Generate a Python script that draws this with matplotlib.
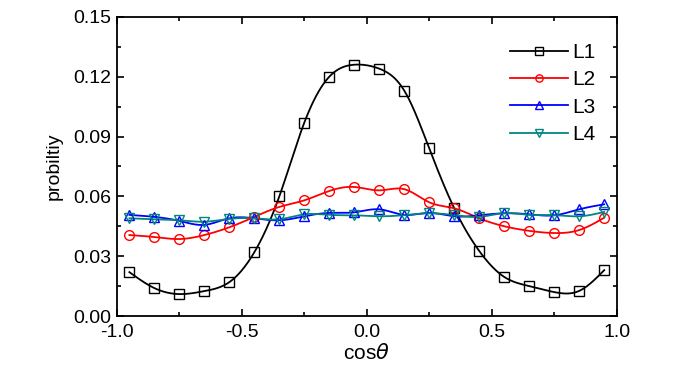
import numpy as np
import matplotlib
matplotlib.use("Agg")
import matplotlib.pyplot as plt
from matplotlib.ticker import MultipleLocator, FormatStrFormatter

plt.rcParams['font.family'] = ['Liberation Sans', 'DejaVu Sans']
plt.rcParams['mathtext.fontset'] = 'dejavusans'

cos_theta = [-0.95, -0.85, -0.75, -0.65, -0.55, -0.45, -0.35, -0.25, -0.15, -0.05,
             0.05, 0.15, 0.25, 0.35, 0.45, 0.55, 0.65, 0.75, 0.85, 0.95]
L1 = [0.022, 0.014, 0.011, 0.0125, 0.017, 0.032, 0.060, 0.097, 0.120, 0.126,
      0.124, 0.113, 0.084, 0.054, 0.0326, 0.0196, 0.015, 0.012, 0.0126, 0.023]
L2 = [0.0406, 0.0396, 0.0386, 0.0406, 0.0445, 0.0497, 0.0547, 0.058, 0.0627, 0.0647,
      0.063, 0.0636, 0.057, 0.054, 0.049, 0.045, 0.0427, 0.0416, 0.0431, 0.0493]
L3 = [0.0507, 0.0497, 0.0477, 0.0457, 0.049, 0.049, 0.048, 0.050, 0.0517, 0.052,
      0.0535, 0.0507, 0.0517, 0.050, 0.0505, 0.0515, 0.051, 0.0505, 0.0535, 0.056]
L4 = [0.049, 0.0485, 0.048, 0.0473, 0.0487, 0.049, 0.0485, 0.051, 0.0507, 0.0505,
      0.050, 0.0506, 0.0515, 0.0506, 0.0497, 0.0516, 0.0507, 0.0506, 0.050, 0.0522]

series = [("L1", L1, "black", "s"), ("L2", L2, "red", "o"),
          ("L3", L3, "blue", "^"), ("L4", L4, "#00857F", "v")]


def natural_spline(x, y, n=400):
    x = np.asarray(x, float); y = np.asarray(y, float)
    m = len(x); h = np.diff(x)
    A = np.zeros((m, m)); b = np.zeros(m)
    A[0, 0] = A[-1, -1] = 1
    for i in range(1, m - 1):
        A[i, i - 1] = h[i - 1]; A[i, i] = 2 * (h[i - 1] + h[i]); A[i, i + 1] = h[i]
        b[i] = 3 * ((y[i + 1] - y[i]) / h[i] - (y[i] - y[i - 1]) / h[i - 1])
    c = np.linalg.solve(A, b)
    xs = np.linspace(x[0], x[-1], n)
    idx = np.clip(np.searchsorted(x, xs) - 1, 0, m - 2)
    dx = xs - x[idx]
    bb = (y[idx + 1] - y[idx]) / h[idx] - h[idx] * (2 * c[idx] + c[idx + 1]) / 3
    dd = (c[idx + 1] - c[idx]) / (3 * h[idx])
    return xs, y[idx] + bb * dx + c[idx] * dx ** 2 + dd * dx ** 3


fig = plt.figure(figsize=(7, 3.74), dpi=100)
ax = fig.add_axes([0.167, 0.155, 0.714, 0.80])

for name, vals, col, mk in series:
    xs, ys = natural_spline(cos_theta, vals)
    ax.plot(xs, ys, color=col, lw=1.3, zorder=2)
    ax.plot(cos_theta, vals, ls='none', marker=mk, ms=7, mfc='none', mec=col, mew=1.0, zorder=3)
    ax.plot([], [], color=col, lw=1.3, marker=mk, ms=7, mfc='none', mec=col, mew=1.0, label=name)

ax.set_xlim(-1.0, 1.0)
ax.set_ylim(0.0, 0.15)
ax.xaxis.set_major_locator(MultipleLocator(0.5))
ax.xaxis.set_minor_locator(MultipleLocator(0.25))
ax.yaxis.set_major_locator(MultipleLocator(0.03))
ax.yaxis.set_minor_locator(MultipleLocator(0.015))
ax.xaxis.set_major_formatter(FormatStrFormatter('%.1f'))
ax.yaxis.set_major_formatter(FormatStrFormatter('%.2f'))
ax.tick_params(which='both', direction='in', top=True, right=True, labelsize=14, width=1.2)
ax.tick_params(which='major', length=5)
ax.tick_params(which='minor', length=3)
ax.tick_params(axis='y', pad=4)
ax.tick_params(axis='x', pad=6)
for s in ax.spines.values():
    s.set_linewidth(1.3)

ax.set_xlabel(r'cos$\theta$', fontsize=15, labelpad=1)
ax.set_ylabel('probiltiy', fontsize=14, labelpad=8)

ax.legend(loc='upper right', frameon=False, fontsize=15, handlelength=2.8, markerscale=0.75,
          handletextpad=0.2, labelspacing=0.4, borderaxespad=0.0, bbox_to_anchor=(0.975, 0.94))

fig.savefig('out.png', dpi=100)
